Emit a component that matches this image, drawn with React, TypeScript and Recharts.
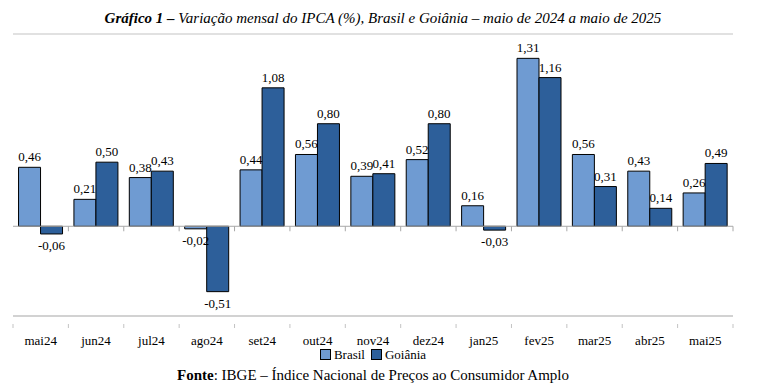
import React from "react"
import {
  Bar,
  BarChart,
  CartesianGrid,
  LabelList,
  ReferenceLine,
  XAxis,
  YAxis,
} from "recharts"

const months = [
  "mai24", "jun24", "jul24", "ago24", "set24", "out24", "nov24",
  "dez24", "jan25", "fev25", "mar25", "abr25", "mai25",
]
const brasil = [0.46, 0.21, 0.38, -0.02, 0.44, 0.56, 0.39, 0.52, 0.16, 1.31, 0.56, 0.43, 0.26]
const goiania = [-0.06, 0.5, 0.43, -0.51, 1.08, 0.8, 0.41, 0.8, -0.03, 1.16, 0.31, 0.14, 0.49]
const yTicks = [-0.7, -0.2, 0.3, 0.8, 1.3, 1.5]

const data = months.map((m, i) => ({ month: m, brasil: brasil[i], goiania: goiania[i] }))

const FONT = "Liberation Serif"
const GRID = "#c3c3c3"
const C_BRASIL = "#6f9bd2"
const C_GOIANIA = "#2d5f9a"

const fmt = (v: number) => v.toFixed(2).replace(".", ",")

// value label: above positive bars, below negative ones
function ValueLabel(props: any) {
  const { x, y, width, height, value } = props
  const top = Math.min(y, y + height)
  const bottom = Math.max(y, y + height)
  const neg = Number(value) < 0
  return (
    <text
      x={x + width / 2}
      y={neg ? bottom + 16 : top - 6}
      textAnchor="middle"
      style={{ fontFamily: FONT, fontSize: 13 }}
      fill="#000"
    >
      {fmt(Number(value))}
    </text>
  )
}

function MonthTick(props: any) {
  const { x, y, payload, index } = props
  const off = payload?.offset ?? 0
  return (
    <g>
      <line x1={x - off} y1={y} x2={x - off} y2={y + 4} stroke={GRID} />
      {index === months.length - 1 && (
        <line x1={x + off} y1={y} x2={x + off} y2={y + 4} stroke={GRID} />
      )}
      <text x={x} y={y + 21} textAnchor="middle" style={{ fontFamily: FONT, fontSize: 13 }} fill="#000">
        {payload.value}
      </text>
    </g>
  )
}

// zero line with small category ticks below it
function ZeroLine(props: any) {
  const { x1, y1, x2 } = props
  const step = (x2 - x1) / months.length
  return (
    <g>
      <line x1={x1} y1={y1} x2={x2} y2={y1} stroke="#a8a8a8" />
      {months.map((_, i) => (
        <line key={i} x1={x1 + step * (i + 1)} y1={y1} x2={x1 + step * (i + 1)} y2={y1 + 5} stroke="#a8a8a8" />
      ))}
    </g>
  )
}

function Swatch({ color }: { color: string }) {
  return (
    <span
      style={{
        display: "inline-block",
        width: 9,
        height: 9,
        background: color,
        border: "1px solid #000",
        marginRight: 3,
        verticalAlign: "-1px",
      }}
    />
  )
}

export default function App() {
  return (
    <div
      style={{
        position: "absolute",
        left: 0,
        top: 0,
        width: 766,
        height: 387,
        background: "#fff",
        fontFamily: FONT,
        color: "#000",
      }}
    >
      <div
        style={{
          position: "absolute",
          top: 10,
          left: 0,
          width: 766,
          textAlign: "center",
          fontSize: 15,
          fontStyle: "italic",
          lineHeight: "17px",
        }}
      >
        <b>Gráfico 1 –</b> Variação mensal do IPCA (%), Brasil e Goiânia – maio de 2024 a maio de 2025
      </div>

      <BarChart
        width={766}
        height={387}
        data={data}
        margin={{ top: 34, left: 13, right: 33, bottom: 41 }}
        barCategoryGap="10%"
        barGap={0}
        style={{ fontFamily: FONT }}
      >
        <CartesianGrid vertical={false} stroke={GRID} />
        <XAxis
          dataKey="month"
          interval={0}
          height={30}
          axisLine={{ stroke: GRID }}
          tickLine={false}
          tick={<MonthTick />}
        />
        <YAxis
          domain={[-0.7, 1.5]}
          ticks={yTicks}
          width={0}
          tick={false}
          tickLine={false}
          axisLine={{ stroke: GRID }}
        />
        <YAxis
          yAxisId="right"
          orientation="right"
          domain={[-0.7, 1.5]}
          ticks={yTicks}
          width={0}
          tick={false}
          tickLine={false}
          axisLine={{ stroke: GRID }}
        />
        <ReferenceLine y={0} shape={<ZeroLine />} />
        <Bar dataKey="brasil" name="Brasil" fill={C_BRASIL} stroke="#000" strokeWidth={1} isAnimationActive={false}>
          <LabelList dataKey="brasil" content={<ValueLabel />} />
        </Bar>
        <Bar dataKey="goiania" name="Goiânia" fill={C_GOIANIA} stroke="#000" strokeWidth={1} isAnimationActive={false}>
          <LabelList dataKey="goiania" content={<ValueLabel />} />
        </Bar>
      </BarChart>

      <div
        style={{
          position: "absolute",
          top: 347,
          left: 0,
          width: 746,
          textAlign: "center",
          fontSize: 13,
          lineHeight: "16px",
        }}
      >
        <span style={{ marginRight: 6 }}>
          <Swatch color={C_BRASIL} />Brasil
        </span>
        <span>
          <Swatch color={C_GOIANIA} />Goiânia
        </span>
      </div>

      <div
        style={{
          position: "absolute",
          top: 367,
          left: 0,
          width: 746,
          textAlign: "center",
          fontSize: 15,
          lineHeight: "17px",
        }}
      >
        <b>Fonte</b>: IBGE – Índice Nacional de Preços ao Consumidor Amplo
      </div>
    </div>
  )
}
